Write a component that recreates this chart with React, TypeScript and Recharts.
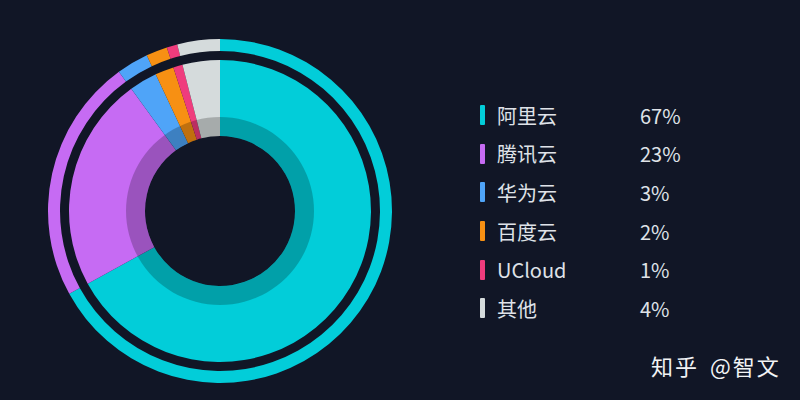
import React from 'react';
import { Cell, Legend, Pie, PieChart } from 'recharts';

const vendors = ['阿里云', '腾讯云', '华为云', '百度云', 'UCloud', '其他'];
const shares = [67, 23, 3, 2, 1, 4];
const colors = ['#02cdd9', '#c66bf3', '#4fa4f8', '#f79013', '#ef3c7d', '#d5dbdc'];

const data = vendors.map((name, i) => ({ name, value: shares[i] }));
const shadow = [{ name: 'shadow', value: 1 }];

const BG = '#111626';
const FONT = '"Noto Sans CJK SC", "Noto Sans", sans-serif';

const renderLegend = () => (
  <div style={{ fontFamily: FONT }}>
    {data.map((d, i) => (
      <div
        key={d.name}
        style={{ display: 'flex', alignItems: 'center', height: 38.6, color: '#dfe2e8', fontSize: 20 }}
      >
        <span style={{ width: 5, height: 20, background: colors[i], borderRadius: 1, marginRight: 12 }} />
        <span style={{ width: 143 }}>{d.name}</span>
        <span>{d.value}%</span>
      </div>
    ))}
  </div>
);

const App = () => (
  <div style={{ position: 'absolute', left: 0, top: 0, width: 800, height: 400, background: BG }}>
    <PieChart width={800} height={400} margin={{ top: 0, right: 0, bottom: 0, left: 0 }}>
      <Pie
        data={data}
        dataKey="value"
        cx={220}
        cy={211}
        innerRadius={160}
        outerRadius={172}
        startAngle={90}
        endAngle={-270}
        stroke="none"
        isAnimationActive={false}
      >
        {data.map((d, i) => (
          <Cell key={d.name} fill={colors[i]} />
        ))}
      </Pie>
      <Pie
        data={data}
        dataKey="value"
        cx={220}
        cy={211}
        innerRadius={75}
        outerRadius={151}
        startAngle={90}
        endAngle={-270}
        stroke="none"
        isAnimationActive={false}
      >
        {data.map((d, i) => (
          <Cell key={d.name} fill={colors[i]} />
        ))}
      </Pie>
      <Pie
        data={shadow}
        dataKey="value"
        cx={220}
        cy={211}
        innerRadius={75}
        outerRadius={94}
        stroke="none"
        fill="#000000"
        fillOpacity={0.22}
        isAnimationActive={false}
      />
      <Legend
        content={renderLegend}
        layout="vertical"
        wrapperStyle={{ left: 480, top: 96, width: 260 }}
      />
    </PieChart>
    <div
      style={{
        position: 'absolute',
        left: 651,
        top: 349,
        fontFamily: FONT,
        fontSize: 22,
        color: '#f2f3f5',
        letterSpacing: 2,
        wordSpacing: 4,
      }}
    >
      知乎 @智文
    </div>
  </div>
);

export default App;
